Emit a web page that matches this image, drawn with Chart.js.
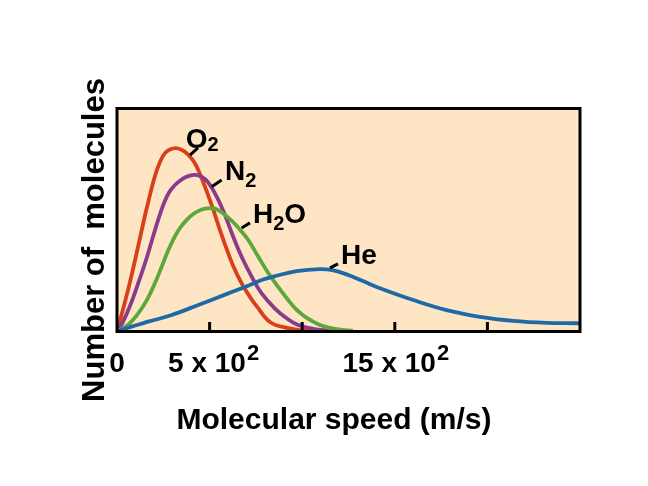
<!DOCTYPE html>
<html>
<head>
<meta charset="utf-8">
<script src="https://cdn.jsdelivr.net/npm/chart.js@4/dist/chart.umd.min.js"></script>
<style>
  html, body { margin: 0; padding: 0; background: #ffffff; }
  canvas { display: block; }
</style>
</head>
<body>
<canvas id="c" width="648" height="486"></canvas>
<script>
// ---- Data (speed in m/s, number of molecules in relative units) ----
const o2Speed  = [0, 43, 79, 124, 162, 205, 232, 259, 286, 316, 346, 378, 421, 475, 520, 556, 592, 628, 673, 718, 754, 826, 916, 1004, 1096];
const o2Count  = [0, 13.2, 25.3, 41.9, 55.8, 69.7, 76.0, 80.0, 81.6, 82.2, 81.6, 79.8, 75.4, 64.9, 54.5, 45.5, 37.0, 29.3, 21.6, 15.5, 11.4, 4.3, 1.6, 0.45, 0.1];

const n2Speed  = [0, 27, 70, 113, 157, 194, 227, 254, 281, 313, 356, 394, 421, 454, 491, 545, 583, 626, 673, 727, 781, 853, 918, 972, 1058, 1150];
const n2Count  = [0, 3.4, 11.4, 21.3, 32.1, 42.4, 51.3, 57.6, 62.3, 65.7, 68.6, 69.9, 70.2, 69.5, 67.0, 59.4, 52.2, 42.8, 33.5, 24.6, 17.1, 10.3, 5.8, 3.1, 1.2, 0.3];

const h2oSpeed = [0, 43, 81, 124, 167, 205, 243, 275, 308, 340, 378, 416, 454, 491, 524, 562, 599, 637, 675, 709, 763, 817, 871, 918, 961, 1006, 1053, 1096, 1150, 1204, 1274];
const h2oCount = [0, 2.0, 4.7, 9.2, 15.0, 21.7, 29.4, 36.1, 41.9, 46.4, 50.2, 52.9, 54.6, 55.2, 55.2, 53.6, 51.1, 48.2, 44.6, 41.0, 33.5, 26.2, 19.9, 14.8, 10.5, 7.2, 4.7, 2.9, 1.6, 0.8, 0.3];

const heSpeed  = [0, 79, 169, 295, 439, 601, 718, 781, 844, 970, 1096, 1163, 1240, 1328, 1420, 1600, 1780, 1960, 2140, 2320, 2482, 2500];
const heCount  = [0, 2.2, 4.4, 7.4, 11.9, 17.1, 20.9, 23.1, 24.6, 27.1, 28.0, 27.5, 25.6, 22.6, 19.4, 14.1, 9.6, 6.6, 4.8, 3.9, 3.7, 3.6];

// ---- Axis ticks and labels ----
const tickMarkValues = [500, 1000, 1500, 2000];
const tickLabelValues = [0, 500, 1500];
const tickLabelBase = ['0', '5 x 10', '15 x 10'];
const tickLabelSup  = ['', '2', '2'];
const xTitle = 'Molecular speed (m/s)';
const yTitle = 'Number of  molecules';

// ---- Curve labels (anchored in data units) ----
const gasLabelParts = [[['O', 0], ['2', 1]], [['N', 0], ['2', 1]], [['H', 0], ['2', 1], ['O', 0]], [['He', 0]]];
const gasLabelX = [371, 583, 734, 1210];
const gasLabelY = [82.5, 67.9, 48.7, 30.3];
const leaderX1 = [394, 511, 673, 1150];
const leaderY1 = [79.1, 64.9, 46.4, 28.5];
const leaderX2 = [437, 565, 718, 1193];
const leaderY2 = [82.3, 67.9, 48.7, 30.3];

// ---- Styles ----
const colRed = '#D8401C', colPurple = '#8A3B8D', colGreen = '#5DA83A', colBlue = '#1E6AA6';
const bgColor = '#FEE5C3';
const FONT = '"Liberation Sans", Arial, Helvetica, sans-serif';
const subDrop = [3.5, 6.7, 7, 0];
const tickLabelDx = [0, 4, 1];

const toPoints = (xs, ys) => xs.map((x, i) => ({ x: x, y: ys[i] }));

const decor = {
  id: 'decor',
  beforeDatasetsDraw(chart) {
    const { ctx, chartArea: a } = chart;
    ctx.save();
    ctx.fillStyle = bgColor;
    ctx.fillRect(a.left, a.top, a.right - a.left, a.bottom - a.top);
    ctx.restore();
  },
  afterDatasetsDraw(chart) {
    const { ctx, chartArea: a, scales } = chart;
    const xs = scales.x, ys = scales.y;
    ctx.save();
    // frame
    ctx.strokeStyle = '#000';
    ctx.lineWidth = 3;
    ctx.strokeRect(a.left, a.top, a.right - a.left, a.bottom - a.top);
    // inner tick marks
    ctx.lineWidth = 3;
    tickMarkValues.forEach(v => {
      const px = xs.getPixelForValue(v);
      ctx.beginPath();
      ctx.moveTo(px, a.bottom);
      ctx.lineTo(px, a.bottom - 9.5);
      ctx.stroke();
    });
    // tick labels
    ctx.fillStyle = '#000';
    ctx.textBaseline = 'alphabetic';
    ctx.textAlign = 'left';
    tickLabelValues.forEach((v, i) => {
      const fBase = 'bold 28px ' + FONT, fSup = 'bold 22px ' + FONT;
      ctx.font = fBase;
      const wb = ctx.measureText(tickLabelBase[i]).width;
      let ws = 0;
      if (tickLabelSup[i]) { ctx.font = fSup; ws = ctx.measureText(tickLabelSup[i]).width + 1; }
      const cx = xs.getPixelForValue(v) + tickLabelDx[i];
      const x0 = cx - (wb + ws) / 2;
      const base = a.bottom + 40.5;
      ctx.font = fBase;
      ctx.fillText(tickLabelBase[i], x0, base);
      if (tickLabelSup[i]) {
        ctx.font = fSup;
        ctx.fillText(tickLabelSup[i], x0 + wb + 1, base - 12);
      }
    });
    // axis titles
    ctx.font = 'bold 30px ' + FONT;
    ctx.textAlign = 'center';
    ctx.fillText(xTitle, (a.left + a.right) / 2 - 14.5, a.bottom + 97.5);
    ctx.save();
    ctx.font = 'bold 31px ' + FONT;
    ctx.translate(a.left - 13.5, (a.top + a.bottom) / 2 + 20);
    ctx.rotate(-Math.PI / 2);
    ctx.fillText(yTitle, 0, 0);
    ctx.restore();
    // leader lines
    ctx.lineWidth = 3;
    ctx.lineCap = 'butt';
    for (let i = 0; i < leaderX1.length; i++) {
      ctx.beginPath();
      ctx.moveTo(xs.getPixelForValue(leaderX1[i]), ys.getPixelForValue(leaderY1[i]));
      ctx.lineTo(xs.getPixelForValue(leaderX2[i]), ys.getPixelForValue(leaderY2[i]));
      ctx.stroke();
    }
    // curve labels
    ctx.textAlign = 'left';
    gasLabelParts.forEach((parts, i) => {
      let x = xs.getPixelForValue(gasLabelX[i]);
      const y = ys.getPixelForValue(gasLabelY[i]);
      parts.forEach(([t, isSub]) => {
        ctx.font = (isSub ? 'bold 20px ' : 'bold 28px ') + FONT;
        ctx.fillText(t, x, isSub ? y + subDrop[i] : y);
        x += ctx.measureText(t).width;
      });
    });
    ctx.restore();
  }
};

const ds = (pts, color) => ({
  data: pts,
  borderColor: color,
  borderWidth: 3.8,
  pointRadius: 0,
  fill: false,
  tension: 0.4
});

new Chart(document.getElementById('c'), {
  type: 'line',
  data: {
    datasets: [
      ds(toPoints(heSpeed, heCount), colBlue),
      ds(toPoints(h2oSpeed, h2oCount), colGreen),
      ds(toPoints(n2Speed, n2Count), colPurple),
      ds(toPoints(o2Speed, o2Count), colRed)
    ]
  },
  options: {
    responsive: false,
    animation: false,
    devicePixelRatio: 1,
    layout: { padding: { left: 117, right: 68, top: 108.5, bottom: 154.5 } },
    scales: {
      x: { type: 'linear', min: 0, max: 2500, display: false },
      y: { type: 'linear', min: 0, max: 100, display: false }
    },
    plugins: { legend: { display: false }, tooltip: { enabled: false } },
    elements: { point: { radius: 0 } }
  },
  plugins: [decor]
});
</script>
</body>
</html>
